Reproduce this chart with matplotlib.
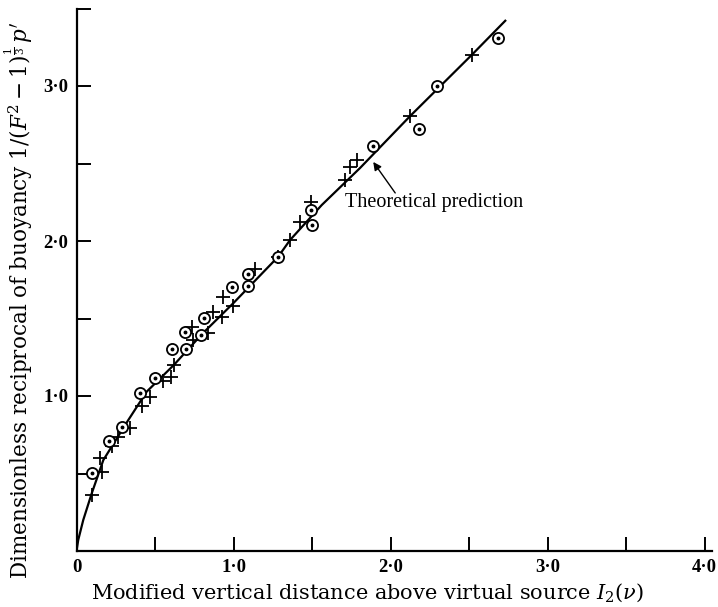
import matplotlib
matplotlib.use("Agg")
import matplotlib.pyplot as plt
from matplotlib.ticker import MultipleLocator, FuncFormatter

# Data
circle_x = [0.097, 0.209, 0.292, 0.404, 0.500, 0.606, 0.696, 0.693, 0.791, 0.814,
            0.989, 1.090, 1.090, 1.285, 1.498, 1.492, 1.890, 2.183, 2.298, 2.687]
circle_y = [0.505, 0.710, 0.802, 1.017, 1.118, 1.301, 1.305, 1.413, 1.395, 1.501,
            1.701, 1.710, 1.787, 1.899, 2.103, 2.200, 2.613, 2.721, 3.000, 3.312]

cross_x = [0.101, 0.161, 0.150, 0.224, 0.266, 0.341, 0.415, 0.468, 0.553, 0.600,
           0.623, 0.744, 0.738, 0.839, 0.871, 0.925, 0.935, 0.999, 1.137, 1.285,
           1.360, 1.424, 1.492, 1.710, 1.742, 1.785, 2.125, 2.517]
cross_y = [0.361, 0.512, 0.598, 0.679, 0.734, 0.792, 0.935, 0.995, 1.097, 1.125,
           1.200, 1.361, 1.447, 1.408, 1.544, 1.512, 1.641, 1.581, 1.817, 1.899,
           2.006, 2.125, 2.254, 2.394, 2.479, 2.523, 2.806, 3.200]

theory_x = [0.0, 0.011, 0.043, 0.097, 0.171, 0.330, 0.447, 0.62, 0.80, 1.00,
            1.285, 1.360, 1.562, 1.806, 2.125, 2.517, 2.731]
theory_y = [0.0, 0.071, 0.200, 0.372, 0.587, 0.845, 1.028, 1.20, 1.40, 1.60,
            1.899, 2.006, 2.232, 2.471, 2.806, 3.200, 3.421]

x_label = r"Modified vertical distance above virtual source $I_2(\nu)$"
y_label = r"Dimensionless reciprocal of buoyancy $1/(F^2 - 1)^{\frac{1}{3}}\,p'$"
annot_text = "Theoretical prediction"
annot_text_pos = (1.71, 2.22)
arrow_tail = (2.03, 2.31)
arrow_head = (1.89, 2.51)

plt.rcParams['font.family'] = ['DejaVu Serif']
plt.rcParams['mathtext.fontset'] = 'dejavuserif'

fig = plt.figure(figsize=(7.18, 6.07), dpi=100)
ax = fig.add_axes([76.5 / 718, 56 / 607, 4.05 * 157 / 718, 3.5 * 155 / 607])

ax.plot(theory_x, theory_y, color='black', lw=1.6, zorder=2)
ax.plot(cross_x, cross_y, linestyle='none', marker='+', markersize=10,
        markeredgewidth=1.3, color='black', zorder=3)
ax.plot(circle_x, circle_y, linestyle='none', marker='o', markersize=8,
        markerfacecolor='white', markeredgecolor='black', markeredgewidth=1.3, zorder=4)
ax.plot(circle_x, circle_y, linestyle='none', marker='o', markersize=1.8,
        color='black', zorder=5)

ax.text(annot_text_pos[0], annot_text_pos[1], annot_text, fontsize=14.5,
        family=['Liberation Serif'], ha='left', va='baseline')
ax.annotate('', xy=arrow_head, xytext=arrow_tail,
            arrowprops=dict(arrowstyle='-|>', color='black', lw=1.0,
                            shrinkA=0, shrinkB=0, mutation_scale=12))

ax.set_xlim(0, 4.05)
ax.set_ylim(0, 3.5)
for s in ['top', 'right']:
    ax.spines[s].set_visible(False)
for s in ['left', 'bottom']:
    ax.spines[s].set_linewidth(1.6)

ax.xaxis.set_major_locator(MultipleLocator(0.5))
ax.yaxis.set_major_locator(MultipleLocator(0.5))

def xfmt(v, pos):
    if abs(v) < 1e-9:
        return "0"
    if abs(v - round(v)) < 1e-9:
        return f"{int(round(v))}·0"
    return ""

def yfmt(v, pos):
    if abs(v) < 1e-9:
        return ""
    if abs(v - round(v)) < 1e-9:
        return f"{int(round(v))}·0"
    return ""

ax.xaxis.set_major_formatter(FuncFormatter(xfmt))
ax.yaxis.set_major_formatter(FuncFormatter(yfmt))
ax.tick_params(direction='in', length=10, width=1.4, labelsize=13.5, pad=6)
for lab in ax.get_xticklabels() + ax.get_yticklabels():
    lab.set_family(['Liberation Serif'])
    lab.set_fontweight('bold')

ax.set_xlabel(x_label, fontsize=15)
ax.set_ylabel(y_label, fontsize=15.5)
ax.xaxis.set_label_coords((368 - 76.5) / 636, -0.056)
ax.yaxis.set_label_coords(-0.066, 0.463)

fig.savefig("out.png", dpi=100)
